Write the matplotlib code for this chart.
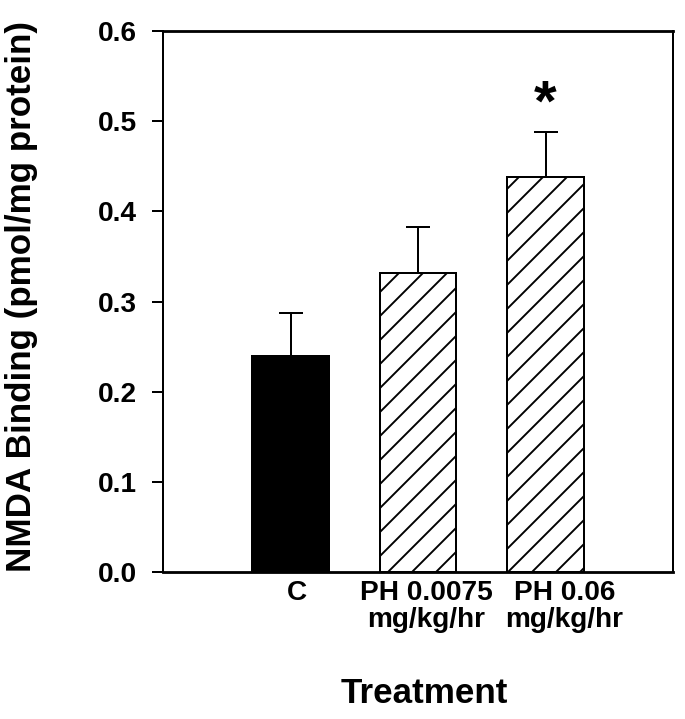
import matplotlib
matplotlib.use("Agg")
import matplotlib.pyplot as plt
import matplotlib.transforms as mtransforms

# Valores
tratamientos = ["C", "PH 0.0075\nmg/kg/hr", "PH 0.06\nmg/kg/hr"]
medias = [0.240, 0.332, 0.438]
errores = [0.047, 0.051, 0.050]
significativo = [False, False, True]

plt.rcParams['font.family'] = ['Liberation Sans', 'DejaVu Sans']
plt.rcParams['font.weight'] = 'bold'
plt.rcParams['hatch.linewidth'] = 1.9

fig = plt.figure(figsize=(685 / 72, 719 / 72), dpi=72)
ax = fig.add_axes([163 / 685, 1 - 572 / 719, 510 / 685, 541 / 719])

posiciones = list(range(len(tratamientos)))
colores = ["black", "white", "white"]
tramas = [None, "/", "/"]

barras = ax.bar(posiciones, medias, width=0.6, color=colores,
                edgecolor="black", linewidth=2, zorder=2)
for b, t in zip(barras, tramas):
    if t:
        b.set_hatch(t)

# Solo la mitad superior del error
ax.errorbar(posiciones, medias, yerr=[[0] * len(errores), errores],
            fmt="none", ecolor="black", elinewidth=2, capsize=12,
            capthick=2, zorder=3)

for x, m, e, s in zip(posiciones, medias, errores, significativo):
    if s:
        ax.annotate("*", (x, m + e), xytext=(0, 11), textcoords="offset points",
                    ha="center", va="baseline", fontsize=58, fontweight="bold")

ax.set_xlim(-1, 3)
ax.set_ylim(0, 0.6)
ax.set_yticks([0.0, 0.1, 0.2, 0.3, 0.4, 0.5, 0.6])
ax.set_yticklabels([f"{v:.1f}" for v in ax.get_yticks()])
ax.set_xticks(posiciones)
ax.set_xticklabels(tratamientos, linespacing=1.05)

ax.tick_params(axis="y", direction="out", length=11, width=2, pad=15,
               labelsize=28)
ax.tick_params(axis="x", length=0, pad=8, labelsize=28)

# Desplazamiento de las etiquetas como en el original
desplazamientos = [6, 8, 19]
for lab, dx in zip(ax.get_xticklabels(), desplazamientos):
    lab.set_transform(lab.get_transform() +
                      mtransforms.ScaledTranslation(dx / 72, 0, fig.dpi_scale_trans))

for lado in ["left", "right"]:
    ax.spines[lado].set_linewidth(2)
for lado in ["top", "bottom"]:
    ax.spines[lado].set_linewidth(2.8)

ax.set_ylabel("NMDA Binding (pmol/mg protein)", fontsize=35, fontweight="bold")
ax.yaxis.set_label_coords(-0.245, 0.51)
ax.set_xlabel("Treatment", fontsize=35, fontweight="bold")
ax.xaxis.set_label_coords(0.512, -0.194)

fig.savefig("out.png", dpi=72)
